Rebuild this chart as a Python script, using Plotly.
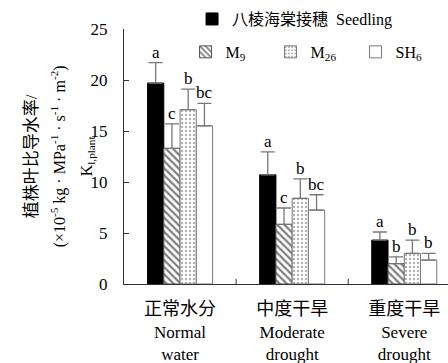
import plotly.graph_objects as go

cats_cn = ["正常水分", "中度干旱", "重度干旱"]
cats_en1 = ["Normal", "Moderate", "Severe"]
cats_en2 = ["water", "drought", "drought"]

series = ["八棱海棠接穗  Seedling", "M<sub>9</sub>", "M<sub>26</sub>", "SH<sub>6</sub>"]
seedling = [19.7, 10.7, 4.3]
m9 = [13.3, 5.85, 2.0]
m26 = [17.1, 8.4, 3.0]
sh6 = [15.5, 7.25, 2.35]
seedling_err = [2.0, 2.25, 0.8]
m9_err = [2.4, 1.6, 0.65]
m26_err = [2.0, 1.9, 1.3]
sh6_err = [2.2, 1.5, 0.65]
letters = [["a", "a", "a"], ["c", "c", "b"], ["b", "b", "b"], ["bc", "bc", "b"]]

values = [seedling, m9, m26, sh6]
errs = [seedling_err, m9_err, m26_err, sh6_err]

FONT = "Liberation Serif, Noto Sans CJK SC, serif"
x = [0, 1, 2]
bargap = 0.42
bw = (1 - bargap) / 4

styles = [
    dict(color="black", line=dict(color="black", width=1), pattern=dict(shape="")),
    dict(color="white", line=dict(color="#555555", width=1),
         pattern=dict(shape="\\", fgcolor="black", bgcolor="white", size=5, solidity=0.45)),
    dict(color="white", line=dict(color="#777777", width=1),
         pattern=dict(shape=".", fgcolor="#666666", bgcolor="white", size=4, solidity=0.3)),
    dict(color="white", line=dict(color="#777777", width=1), pattern=dict(shape="")),
]
legends = ["legend", "legend2", "legend2", "legend2"]

fig = go.Figure()
for j in range(4):
    fig.add_trace(go.Bar(
        x=x, y=values[j], name=series[j], marker=styles[j], legend=legends[j],
        showlegend=True,
        error_y=dict(type="data", array=errs[j], arrayminus=[0, 0, 0], symmetric=False,
                     color="#777777", thickness=1.3, width=7),
    ))

annotations = []
for j in range(4):
    for i in range(3):
        annotations.append(dict(
            x=x[i] + (j - 1.5) * bw, y=values[j][i] + errs[j][i], xref="x", yref="y",
            text=letters[j][i], showarrow=False, yanchor="bottom", yshift=-1,
            font=dict(family=FONT, size=17, color="black")))

ticktext = [f"<span style='font-size:18px'>{c}</span><br>{a}<br>{b}"
            for c, a, b in zip(cats_cn, cats_en1, cats_en2)]

ytitle = ("<span style='font-size:17px'>植株叶比导水率/</span><br>"
          "<span style='font-size:16px'>(×10<sup>-5</sup> kg · MPa<sup>-1</sup> · s<sup>-1</sup> · m<sup>-2</sup>)</span><br>"
          "<span style='font-size:16px'>K<sub>l,plant</sub></span>")
annotations.append(dict(
    text=ytitle, xref="paper", yref="paper", x=-0.198, y=0.5, xanchor="center",
    yanchor="middle", textangle=-90, showarrow=False,
    font=dict(family=FONT, size=21, color="black")))

fig.update_layout(
    width=448, height=363,
    margin=dict(l=124, r=0, t=29, b=79),
    paper_bgcolor="white", plot_bgcolor="white",
    barmode="group", bargap=bargap, bargroupgap=0,
    showlegend=True,
    font=dict(family=FONT, size=16, color="black"),
    annotations=annotations,
    legend=dict(x=0.21, y=1.039, xanchor="left", yanchor="middle",
                bgcolor="rgba(0,0,0,0)", font=dict(size=16), tracegroupgap=0),
    legend2=dict(x=0.19, y=0.91, xanchor="left", yanchor="middle", orientation="h",
                 bgcolor="rgba(0,0,0,0)", font=dict(size=16),
                 entrywidth=40, entrywidthmode="pixels"),
    xaxis=dict(range=[-0.5, 2.39], tickmode="array", tickvals=x, ticktext=ticktext,
               showline=True, linecolor="#333333", linewidth=1, ticks="",
               showgrid=False, zeroline=False, tickfont=dict(size=17),
               ticklabelstandoff=10, automargin=False),
    yaxis=dict(range=[0, 25], tickvals=[0, 5, 10, 15, 20, 25], showline=True,
               linecolor="#333333", linewidth=1, ticks="inside", ticklen=5,
               tickcolor="#333333", showgrid=False, zeroline=False,
               tickfont=dict(size=17), ticklabelstandoff=12, automargin=False),
)
# category boundary ticks on x axis
for b in [0.5, 1.5]:
    fig.add_shape(type="line", xref="x", yref="y", x0=b, x1=b, y0=0, y1=0.5,
                  line=dict(color="#333333", width=1))

fig.write_html("out.html", config={"displayModeBar": False},
               post_script="document.body.style.margin='0';")
